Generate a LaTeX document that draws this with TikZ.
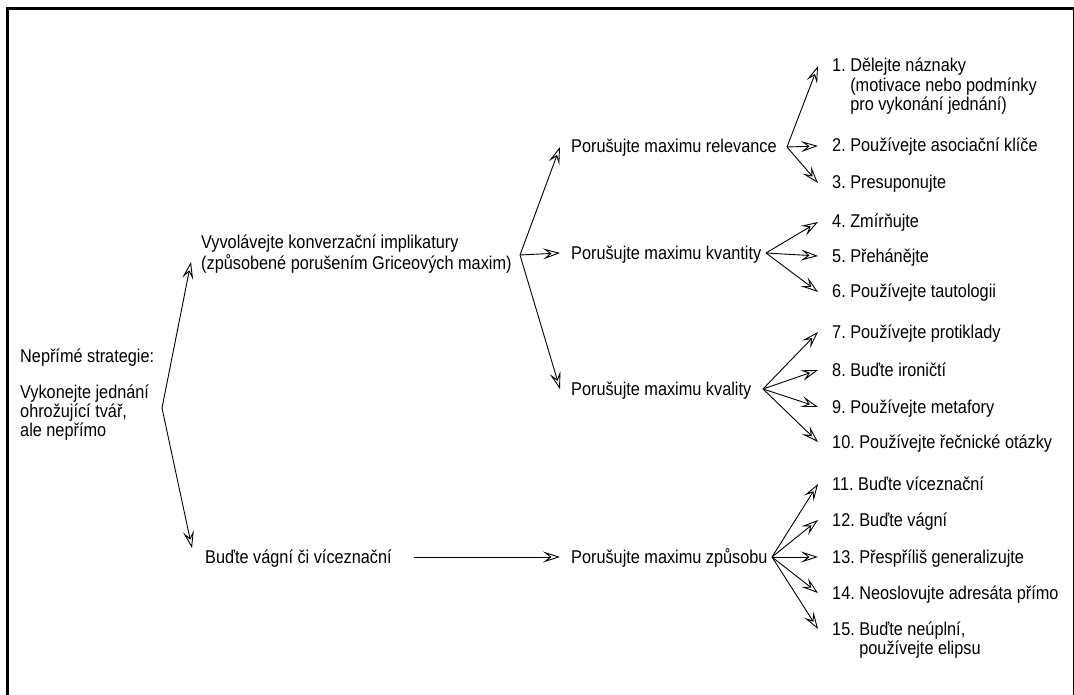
\documentclass[tikz,border=0pt]{standalone}
\usepackage{fontspec}
\setmainfont{Liberation Sans}[FakeStretch=0.88]
\usetikzlibrary{arrows.meta,calc}

% stacked lines, baseline on the first line
\newcommand\stack[1]{\begin{tabular}[t]{@{}l@{}}#1\end{tabular}}
% numbered item with a hanging indent
\newcommand\itm[2]{#1.\ \stack{#2}}

\begin{document}
\begin{tikzpicture}[x=1pt,y=-1pt,
  lbl/.style={anchor=base west,inner sep=0pt,font=\fontsize{18.5}{19}\selectfont},
  arr/.style={-{Stealth[open,length=17pt,width=11pt,inset=7pt]},line width=0.9pt},
  frame/.style={line width=3pt}]
\useasboundingbox (0,0) rectangle (1074,695);

% border
\draw[frame] (7,695) -- (7,9) -- (1074,9);
\draw[line width=1pt] (1073.5,9) -- (1073.5,695);

% root and first level
\node[lbl] (root) at (20,362) {\stack{Nepřímé strategie:\\[17pt]Vykonejte jednání\\ohrožující tvář,\\ale nepřímo}};
\node[lbl] (impl) at (201,249) {\stack{Vyvolávejte konverzační implikatury\\(způsobené porušením Griceových maxim)}};
\node[lbl] (vague) at (205,563) {Buďte vágní či víceznační};

% maxims
\node[lbl] (rel)  at (571,153) {Porušujte maximu relevance};
\node[lbl] (qua)  at (571,259) {Porušujte maximu kvantity};
\node[lbl] (qual) at (571,395) {Porušujte maximu kvality};
\node[lbl] (man)  at (571,563) {Porušujte maximu způsobu};

% strategies
\node[lbl] (i1)  at (832,72)  {\itm{1}{Dělejte náznaky\\(motivace nebo podmínky\\pro vykonání jednání)}};
\node[lbl] (i2)  at (832,152) {\itm{2}{Používejte asociační klíče}};
\node[lbl] (i3)  at (832,189) {\itm{3}{Presuponujte}};
\node[lbl] (i4)  at (832,228) {\itm{4}{Zmírňujte}};
\node[lbl] (i5)  at (832,262) {\itm{5}{Přehánějte}};
\node[lbl] (i6)  at (832,298) {\itm{6}{Používejte tautologii}};
\node[lbl] (i7)  at (832,338) {\itm{7}{Používejte protiklady}};
\node[lbl] (i8)  at (832,376) {\itm{8}{Buďte ironičtí}};
\node[lbl] (i9)  at (832,413) {\itm{9}{Používejte metafory}};
\node[lbl] (i10) at (832,448) {\itm{10}{Používejte řečnické otázky}};
\node[lbl] (i11) at (832,490) {\itm{11}{Buďte víceznační}};
\node[lbl] (i12) at (832,526) {\itm{12}{Buďte vágní}};
\node[lbl] (i13) at (832,563) {\itm{13}{Přespříliš generalizujte}};
\node[lbl] (i14) at (832,599) {\itm{14}{Neoslovujte adresáta přímo}};
\node[lbl] (i15) at (832,635) {\itm{15}{Buďte neúplní,\\používejte elipsu}};

% branching points
\coordinate (f0) at (162,408);
\coordinate (f1) at (520,255);
\coordinate (fr) at (787,147);
\coordinate (fq) at (766,253);
\coordinate (fl) at (763,389);
\coordinate (fm) at (772,557);
\coordinate (vs) at ($(vague.base east)+(22,-6)$);

% connectors
\draw[arr] (f0) -- ($(impl.base west)+(-10,13)$);
\draw[arr] (f0) -- ($(vague.base west)+(-13,-15)$);
\draw[arr] (vs) -- ($(man.base west)+(-11,-6)$);
\foreach \t in {rel,qua,qual}
  \draw[arr] (f1) -- ($(\t.base west)+(-11,-6)$);
\foreach \f/\t in {fr/i1,fr/i2,fr/i3,fq/i4,fq/i5,fq/i6,fl/i7,fl/i8,fl/i9,fl/i10,
                   fm/i11,fm/i12,fm/i13,fm/i14,fm/i15}
  \draw[arr] (\f) -- ($(\t.base west)+(-14,-6)$);
\end{tikzpicture}
\end{document}
